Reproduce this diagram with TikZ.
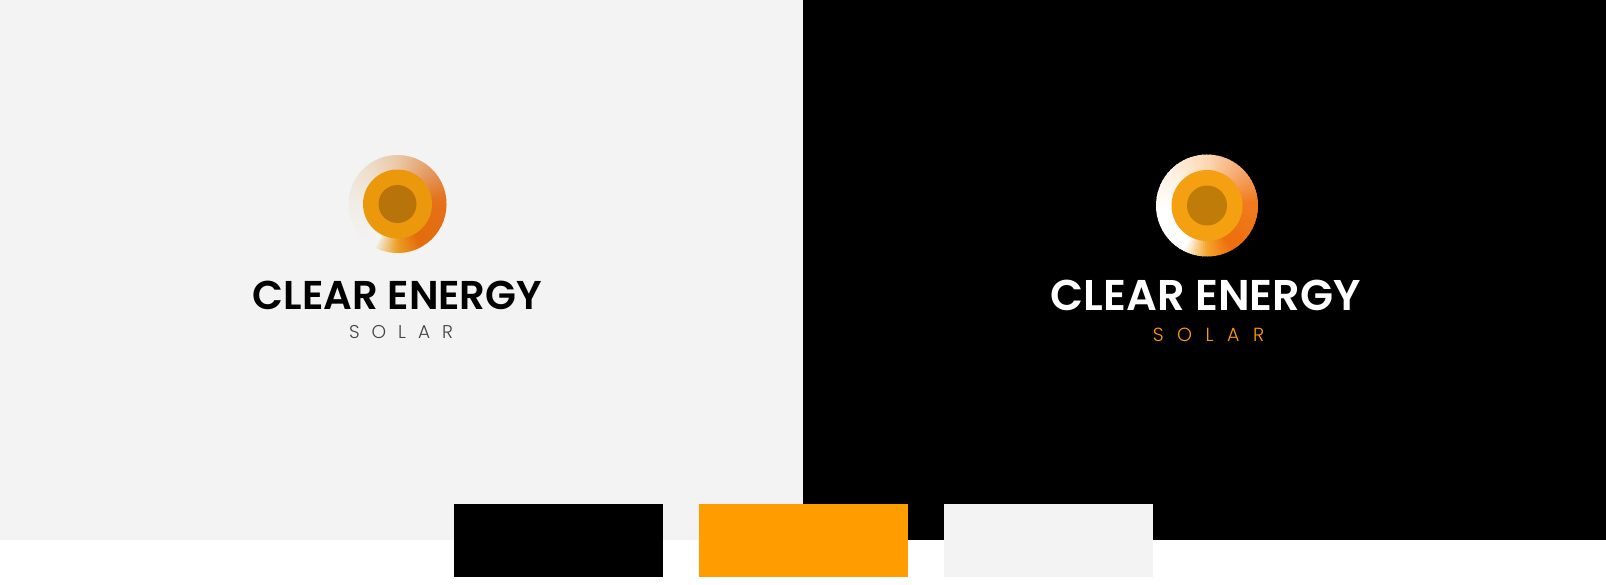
\documentclass[tikz,border=0pt]{standalone}
\usepackage{fontspec}
\newfontfamily\logob{Poppins SemiBold}
\newfontfamily\logol{Poppins Light}
\definecolor{panelL}{HTML}{F3F3F3}
\definecolor{swOr}{HTML}{FF9C00}
\definecolor{midL}{HTML}{EB980C}
\definecolor{inL}{HTML}{B8740A}
\definecolor{midD}{HTML}{F4A010}
\definecolor{inD}{HTML}{C07C08}
\definecolor{solarL}{HTML}{444444}
\definecolor{a0}{HTML}{F3F0E8}
\definecolor{a1}{HTML}{EC9E24}
\definecolor{a2}{HTML}{E36C0C}
\definecolor{a3}{HTML}{E4701A}
\definecolor{a4}{HTML}{E49A62}
\definecolor{a5}{HTML}{EBC8A8}
\definecolor{a6}{HTML}{EFE0D0}
\definecolor{a7}{HTML}{F1EEE8}
\definecolor{b0}{HTML}{FFFFFF}
\definecolor{b1}{HTML}{F4A52C}
\definecolor{b2}{HTML}{EE6E0C}
\definecolor{b3}{HTML}{F07C20}
\definecolor{b4}{HTML}{F6A86C}
\definecolor{b5}{HTML}{FCD8B4}
\definecolor{b6}{HTML}{FFF0E0}
\definecolor{b7}{HTML}{FFFFFF}
\newcommand{\ringseg}[6]{%
  \foreach \k in {0,...,9}{%
    \pgfmathsetmacro{\pct}{\k*10+5}%
    \pgfmathsetmacro{\sa}{-(#3+(#4-#3)*\k/10)}%
    \pgfmathsetmacro{\ea}{-(#3+(#4-#3)*(\k+1.25)/10)}%
    \fill[color=#6!\pct!#5] (#1) -- ++(\sa:#2) arc[start angle=\sa,end angle=\ea,radius=#2] -- cycle;%
  }}
\begin{document}
\begin{tikzpicture}[x=1pt,y=-1pt,
  swatch/.style={minimum width=209.2pt,minimum height=72.5pt,inner sep=0pt,outer sep=0pt,anchor=north west},
  disc/.style={circle,inner sep=0pt,outer sep=0pt,minimum size=#1},
  title/.style={inner sep=0pt,font=\logob\fontsize{40.2}{40.2}\selectfont},
  sub/.style={inner sep=0pt,font=\logol\fontsize{18.5}{18.5}\selectfont}]
\useasboundingbox (0,0) rectangle (1606,584);
\fill[white] (0,0) rectangle (1606,584);
\fill[panelL] (0,0) rectangle (803,540);
\fill[black] (803,0) rectangle (1606,540);
% left logo
\coordinate (cl) at (397.5,204);
\ringseg{cl}{49}{-118}{-90}{a0}{a1}
\ringseg{cl}{49}{-90}{-60}{a1}{a2}
\ringseg{cl}{49}{-60}{5}{a2}{a3}
\ringseg{cl}{49}{5}{45}{a3}{a4}
\ringseg{cl}{49}{45}{90}{a4}{a5}
\ringseg{cl}{49}{90}{135}{a5}{a6}
\ringseg{cl}{49}{135}{185}{a6}{a7}
\ringseg{cl}{49}{185}{242}{a7}{panelL}
\node[disc=69pt,fill=midL] (ml) at (397.5,204) {};
\node[disc=38pt,fill=inL] (il) at (397.5,204) {};
\node[title,text=black] (tl) at (397.5,295) {CLEAR ENERGY};
\node[sub,text=solarL] (sl) at (401,332) {S\hspace{12pt}O\hspace{12pt}L\hspace{12pt}A\hspace{12pt}R};
% right logo
\coordinate (cr) at (1207,205.5);
\ringseg{cr}{51}{-118}{-90}{b0}{b1}
\ringseg{cr}{51}{-90}{-60}{b1}{b2}
\ringseg{cr}{51}{-60}{5}{b2}{b3}
\ringseg{cr}{51}{5}{45}{b3}{b4}
\ringseg{cr}{51}{45}{90}{b4}{b5}
\ringseg{cr}{51}{90}{135}{b5}{b6}
\ringseg{cr}{51}{135}{185}{b6}{b7}
\ringseg{cr}{51}{185}{242}{b7}{b0}
\node[disc=71pt,fill=midD] (mr) at (1207,205.5) {};
\node[disc=40pt,fill=inD] (ir) at (1207,205.5) {};
\node[title,text=white,font=\logob\fontsize{43}{43}\selectfont] (tr) at (1205.7,295.5) {CLEAR ENERGY};
\node[sub,text=swOr,font=\logol\fontsize{19}{19}\selectfont] (sr) at (1208.5,334.5) {S\hspace{13.5pt}O\hspace{13.5pt}L\hspace{13.5pt}A\hspace{13.5pt}R};
% swatches
\node[swatch,fill=black] (s1) at (454,504.3) {};
\node[swatch,fill=swOr] (s2) at (699,504.3) {};
\node[swatch,fill=panelL] (s3) at (944,504.3) {};
\end{tikzpicture}
\end{document}
